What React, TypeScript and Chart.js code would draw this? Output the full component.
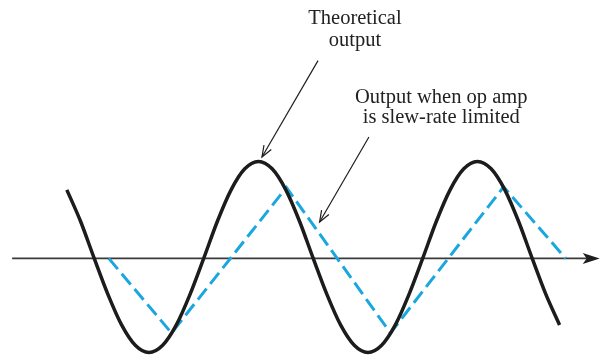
import React, { useEffect, useRef } from "react";
import { Chart, registerables } from "chart.js";

Chart.register(...registerables);

// Theoretical output: phase (degrees) and normalised amplitude
const sinePhase = [
  -225, -202.5, -180, -157.5, -135, -112.5, -90, -67.5, -45, -22.5,
  0, 22.5, 45, 67.5, 90, 112.5, 135, 157.5, 180, 202.5,
  225, 247.5, 270, 292.5, 315, 337.5, 360, 382.5, 405, 427.5,
  450, 472.5, 495, 517.5, 540, 562.5, 585,
];
const sineValue = [
  0.714, 0.387, 0, -0.375, -0.693, -0.905, -0.98, -0.905, -0.693, -0.375,
  0, 0.387, 0.714, 0.933, 1.01, 0.933, 0.714, 0.387, 0, -0.375,
  -0.693, -0.905, -0.98, -0.905, -0.693, -0.375, 0, 0.387, 0.714, 0.933,
  1.01, 0.933, 0.714, 0.387, 0, -0.375, -0.693,
];

// Slew-rate limited output: corner points of the triangle wave
const slewPhase = [-156, -53, 136, 307, 493, 595];
const slewValue = [0, -0.777, 0.739, -0.777, 0.745, 0];

// Annotation texts
const labelTheoretical = ["Theoretical", "output"];
const labelSlew = ["Output when op amp", "is slew-rate limited"];

// Annotation placement in data units (phase, amplitude)
const axisSpan = { from: -315, to: 651 };
const notes = [
  { lines: labelTheoretical, at: { x: 248.6, y: 2.44 }, lineStep: 0.226,
    arrowFrom: { x: 187.9, y: 2.06 }, arrowTo: { x: 95.8, y: 1.056 } },
  { lines: labelSlew, at: { x: 390.5, y: 1.617 }, lineStep: 0.21,
    arrowFrom: { x: 271.6, y: 1.264 }, arrowTo: { x: 190.5, y: 0.379 } },
];

const FONT = '20.5px "Liberation Serif", "Times New Roman", serif';

const annotationPlugin = {
  id: "annotations",
  beforeDatasetsDraw(chart: any) {
    const { ctx, scales } = chart;
    const xs = scales.x;
    const ys = scales.y;
    const y0 = ys.getPixelForValue(0);
    const xa = xs.getPixelForValue(axisSpan.from);
    const xb = xs.getPixelForValue(axisSpan.to);
    ctx.save();
    ctx.strokeStyle = "#3a3a3a";
    ctx.fillStyle = "#1e1e1e";
    ctx.lineWidth = 1.8;
    ctx.beginPath();
    ctx.moveTo(xa, y0);
    ctx.lineTo(xb - 8, y0);
    ctx.stroke();
    ctx.beginPath();
    ctx.moveTo(xb, y0);
    ctx.lineTo(xb - 17, y0 - 5.5);
    ctx.lineTo(xb - 13, y0);
    ctx.lineTo(xb - 17, y0 + 5.5);
    ctx.closePath();
    ctx.fill();
    ctx.restore();
  },
  afterDatasetsDraw(chart: any) {
    const { ctx, scales } = chart;
    const xs = scales.x;
    const ys = scales.y;
    ctx.save();
    ctx.font = FONT;
    ctx.fillStyle = "#222222";
    ctx.textAlign = "center";
    ctx.textBaseline = "alphabetic";
    for (const n of notes) {
      n.lines.forEach((line: string, i: number) => {
        ctx.fillText(line, xs.getPixelForValue(n.at.x), ys.getPixelForValue(n.at.y - i * n.lineStep));
      });
      const x1 = xs.getPixelForValue(n.arrowFrom.x);
      const y1 = ys.getPixelForValue(n.arrowFrom.y);
      const x2 = xs.getPixelForValue(n.arrowTo.x);
      const y2 = ys.getPixelForValue(n.arrowTo.y);
      ctx.strokeStyle = "#1e1e1e";
      ctx.lineWidth = 1.2;
      ctx.beginPath();
      ctx.moveTo(x1, y1);
      ctx.lineTo(x2, y2);
      ctx.stroke();
      const ang = Math.atan2(y2 - y1, x2 - x1);
      const len = 12;
      const spread = 0.36;
      ctx.beginPath();
      ctx.moveTo(x2 - len * Math.cos(ang - spread), y2 - len * Math.sin(ang - spread));
      ctx.lineTo(x2, y2);
      ctx.lineTo(x2 - len * Math.cos(ang + spread), y2 - len * Math.sin(ang + spread));
      ctx.stroke();
    }
    ctx.restore();
  },
};

export default function App() {
  const ref = useRef<HTMLCanvasElement>(null);
  useEffect(() => {
    if (!ref.current) return;
    const chart = new Chart(ref.current, {
      type: "line",
      data: {
        datasets: [
          {
            label: "Theoretical output",
            data: sinePhase.map((x, i) => ({ x, y: sineValue[i] })),
            borderColor: "#1c1c1c",
            borderWidth: 3.5,
            pointRadius: 0,
            cubicInterpolationMode: "monotone",
            fill: false,
          },
          {
            label: "Slew-rate limited output",
            data: slewPhase.map((x, i) => ({ x, y: slewValue[i] })),
            borderColor: "#1aa6df",
            borderWidth: 3,
            borderDash: [14, 6],
            pointRadius: 0,
            tension: 0,
            fill: false,
          },
        ],
      },
      options: {
        responsive: false,
        animation: false,
        devicePixelRatio: 1,
        layout: { padding: 0 },
        plugins: { legend: { display: false }, tooltip: { enabled: false }, title: { display: false } },
        scales: {
          x: { type: "linear", display: false, min: -334.9, max: 656.4 },
          y: { type: "linear", display: false, min: -1.0167, max: 2.6917 },
        },
      },
      plugins: [annotationPlugin],
    } as any);
    return () => chart.destroy();
  }, []);
  return (
    <div style={{ position: "absolute", left: 0, top: 0, width: 603, height: 356, background: "#fff" }}>
      <canvas ref={ref} width={603} height={356} style={{ width: 603, height: 356 }} />
    </div>
  );
}
